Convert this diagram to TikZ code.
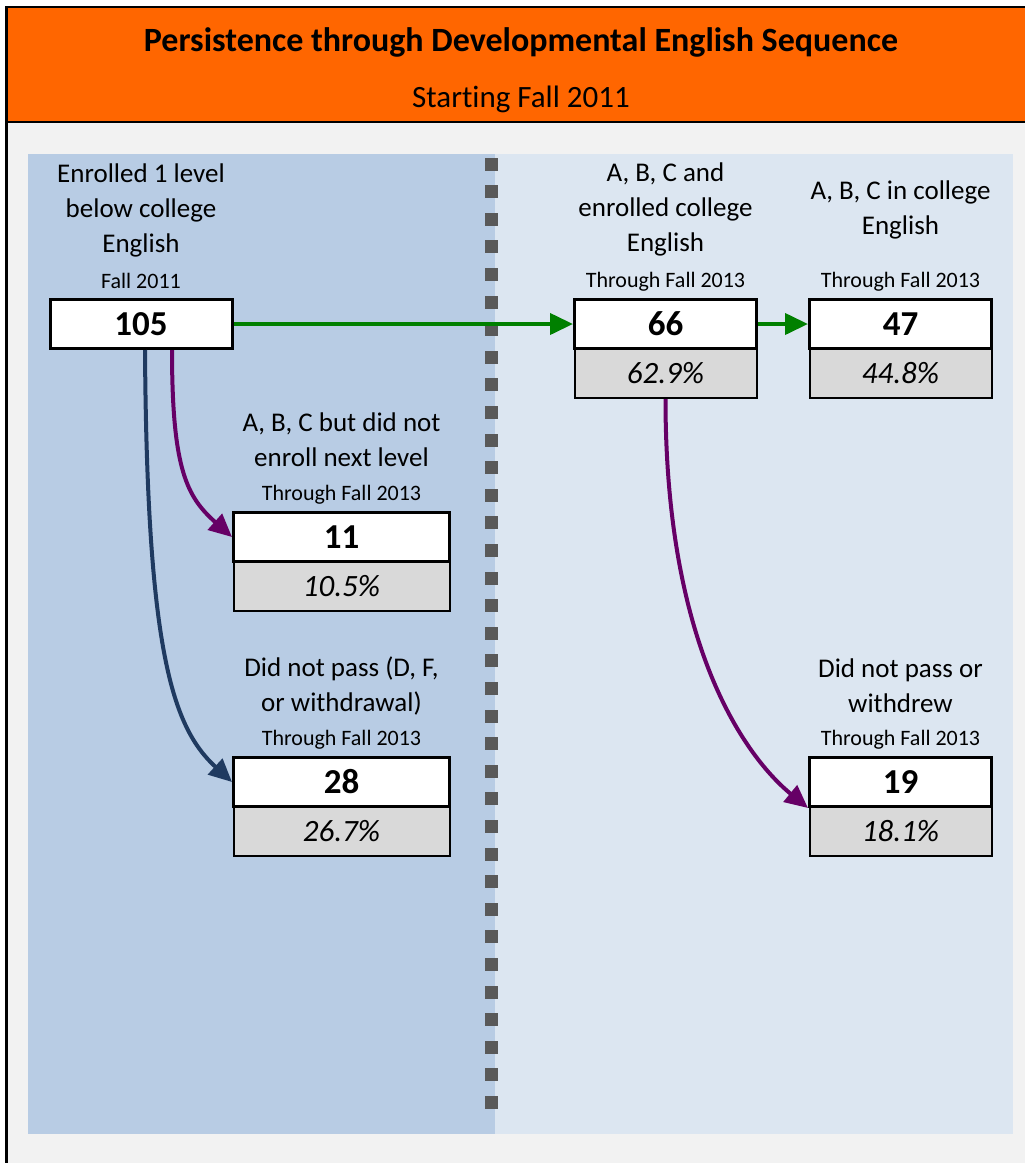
\documentclass[tikz,border=0pt]{standalone}
\usepackage{fontspec}
\setmainfont{Carlito}[Ligatures=NoCommon]
\usetikzlibrary{arrows.meta,positioning}
\definecolor{hdrorange}{HTML}{FF6600}
\definecolor{bggray}{HTML}{F2F2F2}
\definecolor{leftblue}{HTML}{B8CCE4}
\definecolor{rightblue}{HTML}{DCE6F1}
\definecolor{boxgray}{HTML}{D9D9D9}
\definecolor{dotgray}{HTML}{595959}
\definecolor{flowgreen}{HTML}{008000}
\definecolor{flowpurple}{HTML}{660066}
\definecolor{flownavy}{HTML}{1F3A60}
\tikzset{
  numbox/.style={draw,line width=3pt,fill=white,minimum width=182pt,minimum height=49pt,inner sep=0pt,font=\fontsize{35}{40}\selectfont\bfseries},
  pctbox/.style={draw,line width=2pt,fill=boxgray,minimum width=182pt,minimum height=49pt,inner sep=0pt,font=\fontsize{31}{36}\selectfont\itshape},
  lbl/.style={align=center,font=\fontsize{27}{35}\selectfont},
  thru/.style={font=\fontsize{22}{26}\selectfont},
  flow/.style={line width=4pt,-{Triangle[length=23pt,width=21pt]}}
}

\begin{document}
\begin{tikzpicture}[x=1pt,y=-1pt]
\fill[white] (0,0) rectangle (1025,1163);
\useasboundingbox (0,0) rectangle (1025,1163);
% frame and header
\fill[bggray] (5,7) rectangle (1025,1163);
\fill[hdrorange] (5,7) rectangle (1025,122);
\draw[line width=2.5pt] (6.5,1163) -- (6.5,7) -- (1025,7);
\draw[line width=2pt] (6.5,122) -- (1025,122);
\node[font=\fontsize{34}{38}\selectfont\bfseries] (title) at (521,42) {Persistence through Developmental English Sequence};
\node[font=\fontsize{31}{34}\selectfont] (sub) at (521,99) {Starting Fall 2011};
% panels
\fill[leftblue] (28,154) rectangle (495,1134);
\fill[rightblue] (495,154) rectangle (1013,1134);
\foreach \i in {0,...,34}
\fill[dotgray] (484.5,157.5+27.6*\i) rectangle +(13,13);

% start
\node[lbl] (enrl) at (141,210) {Enrolled 1 level\\below college\\English};
\node[thru] (enrt) at (141,281) {Fall 2011};
\node[numbox] (enr) at (141,324) {105};

% next level
\node[lbl] (coll) at (665.5,209) {A, B, C and\\enrolled college\\English};
\node[thru] (colt) at (665.5,282) {Through Fall 2013};
\node[numbox] (col) at (665.5,324) {66};
\node[pctbox,below=-2pt of col] (colp) {62.9\%};

\node[lbl] (resl) at (900.5,210) {A, B, C in college\\English};
\node[thru] (rest) at (900.5,282) {Through Fall 2013};
\node[numbox] (res) at (900.5,324) {47};
\node[pctbox,below=-2pt of res] (resp) {44.8\%};

% dropped out
\node[lbl] (nell) at (341.5,440) {A, B, C but did not\\enroll next level};
\node[thru] (nelt) at (341.5,495) {Through Fall 2013};
\node[numbox,minimum width=216pt] (nel) at (341.5,537) {11};
\node[pctbox,minimum width=216pt,below=-2pt of nel] (nelp) {10.5\%};

\node[lbl] (faill) at (341.5,686) {Did not pass (D, F,\\or withdrawal)};
\node[thru] (failt) at (341.5,740) {Through Fall 2013};
\node[numbox,minimum width=216pt] (fail) at (341.5,782) {28};
\node[pctbox,minimum width=216pt,below=-2pt of fail] (failp) {26.7\%};

\node[lbl] (wdl) at (900.5,686) {Did not pass or\\withdrew};
\node[thru] (wdt) at (900.5,740) {Through Fall 2013};
\node[numbox] (wd) at (900.5,782) {19};
\node[pctbox,below=-2pt of wd] (wdp) {18.1\%};

% arrows
\draw[flow,flowgreen] (enr.east) -- (col.west);
\draw[flow,flowgreen] (col.east) -- (res.west);
\draw[flow,flowpurple] ([xshift=31pt]enr.south) .. controls +(0,120) and +(-45,-40) .. (nel.west);
\draw[flow,flownavy] ([xshift=4pt]enr.south) .. controls +(2,300) and +(-60,-55) .. (fail.west);
\draw[flow,flowpurple] (colp.south) .. controls +(0,260) and +(-55,-45) .. (wd.south west);
\end{tikzpicture}
\end{document}
